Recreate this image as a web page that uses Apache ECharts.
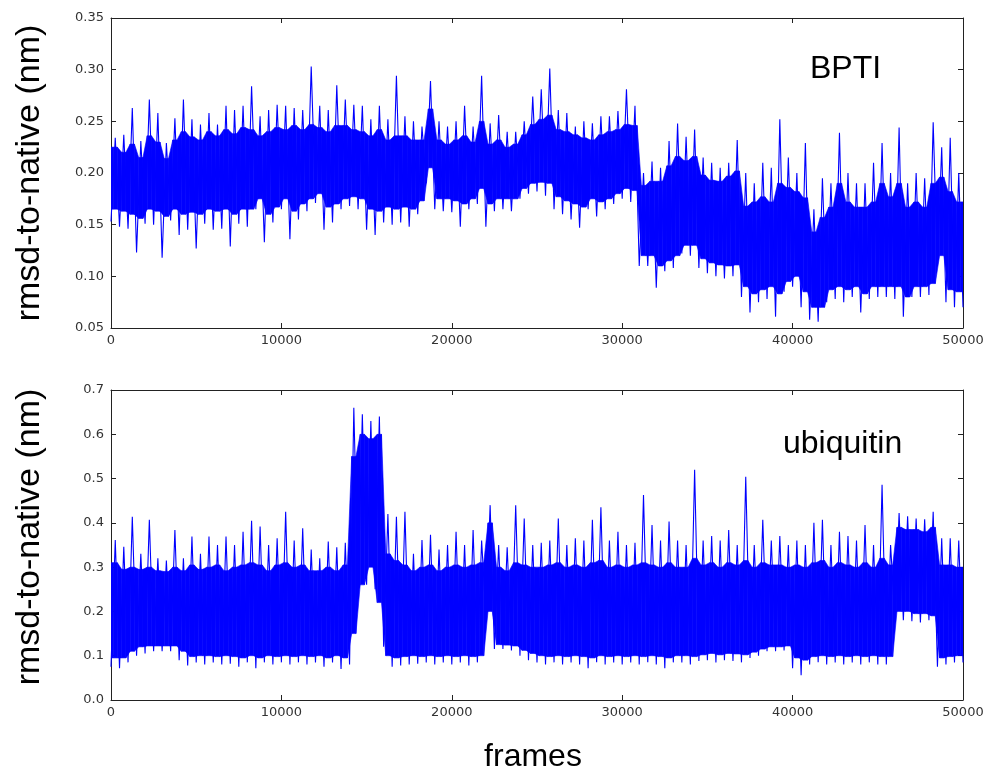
<!DOCTYPE html>
<html>
<head>
<meta charset="utf-8">
<script src="https://cdn.jsdelivr.net/npm/echarts@6/dist/echarts.min.js"></script>
<style>
  html, body { margin: 0; background: #fff; }
  #chart { width: 989px; height: 772px; }
</style>
</head>
<body>
<div id="chart"></div>
<script>
// frames per bin
const binSize = 500

// BPTI - per 500-frame bin: spike max / min and the edges of the solid band
const bptiHi = [
  0.234, 0.237, 0.263, 0.231, 0.271, 0.258, 0.229, 0.253, 0.271, 0.252,
  0.247, 0.258, 0.247, 0.265, 0.261, 0.265, 0.284, 0.255, 0.261, 0.266,
  0.265, 0.263, 0.261, 0.303, 0.265, 0.261, 0.285, 0.271, 0.266, 0.265,
  0.252, 0.265, 0.252, 0.294, 0.255, 0.25, 0.245, 0.289, 0.25, 0.245,
  0.25, 0.265, 0.245, 0.294, 0.248, 0.256, 0.24, 0.24, 0.25, 0.274,
  0.281, 0.301, 0.261, 0.258, 0.245, 0.25, 0.248, 0.255, 0.255, 0.26,
  0.281, 0.265, 0.2, 0.211, 0.205, 0.231, 0.248, 0.235, 0.242, 0.215,
  0.21, 0.205, 0.21, 0.232, 0.2, 0.19, 0.21, 0.205, 0.252, 0.215,
  0.2, 0.229, 0.165, 0.195, 0.19, 0.239, 0.2, 0.19, 0.19, 0.21,
  0.229, 0.2, 0.244, 0.19, 0.2, 0.195, 0.249, 0.225, 0.234, 0.2
]
const bptiLo = [
  0.153, 0.148, 0.146, 0.123, 0.151, 0.15, 0.118, 0.154, 0.14, 0.145,
  0.127, 0.151, 0.145, 0.146, 0.129, 0.151, 0.148, 0.165, 0.133, 0.152,
  0.165, 0.136, 0.155, 0.163, 0.171, 0.145, 0.152, 0.165, 0.168, 0.165,
  0.145, 0.14, 0.152, 0.15, 0.152, 0.148, 0.16, 0.19, 0.165, 0.163,
  0.162, 0.148, 0.165, 0.17, 0.148, 0.163, 0.165, 0.163, 0.175, 0.18,
  0.182, 0.178, 0.165, 0.16, 0.155, 0.147, 0.165, 0.158, 0.165, 0.17,
  0.175, 0.172, 0.11, 0.11, 0.089, 0.105, 0.108, 0.122, 0.12, 0.108,
  0.103, 0.1, 0.098, 0.1, 0.08, 0.065, 0.075, 0.078, 0.061, 0.085,
  0.09, 0.07, 0.058, 0.056, 0.075, 0.078, 0.075, 0.08, 0.065, 0.078,
  0.08, 0.08, 0.078, 0.061, 0.08, 0.08, 0.082, 0.11, 0.075, 0.07
]
const bptiTop = [
  0.225, 0.22, 0.228, 0.215, 0.236, 0.23, 0.214, 0.232, 0.24, 0.235,
  0.232, 0.24, 0.236, 0.242, 0.238, 0.244, 0.242, 0.236, 0.24, 0.244,
  0.242, 0.246, 0.242, 0.247, 0.244, 0.24, 0.246, 0.246, 0.242, 0.24,
  0.236, 0.242, 0.232, 0.236, 0.236, 0.232, 0.232, 0.262, 0.232, 0.228,
  0.232, 0.236, 0.23, 0.25, 0.228, 0.232, 0.225, 0.228, 0.237, 0.247,
  0.252, 0.256, 0.242, 0.24, 0.237, 0.234, 0.232, 0.237, 0.24, 0.242,
  0.247, 0.246, 0.188, 0.192, 0.192, 0.207, 0.216, 0.212, 0.216, 0.198,
  0.193, 0.192, 0.197, 0.202, 0.168, 0.172, 0.177, 0.172, 0.19, 0.186,
  0.182, 0.176, 0.143, 0.157, 0.167, 0.19, 0.172, 0.167, 0.167, 0.172,
  0.19, 0.177, 0.19, 0.167, 0.172, 0.167, 0.19, 0.196, 0.182, 0.172
]
const bptiBot = [
  0.165, 0.163, 0.16, 0.156, 0.165, 0.163, 0.158, 0.165, 0.16, 0.162,
  0.16, 0.165, 0.163, 0.165, 0.16, 0.165, 0.165, 0.175, 0.16, 0.167,
  0.175, 0.163, 0.17, 0.175, 0.18, 0.167, 0.17, 0.175, 0.177, 0.175,
  0.165, 0.163, 0.167, 0.165, 0.167, 0.165, 0.173, 0.205, 0.175, 0.175,
  0.173, 0.17, 0.175, 0.185, 0.17, 0.175, 0.175, 0.175, 0.185, 0.19,
  0.191, 0.19, 0.177, 0.173, 0.17, 0.167, 0.175, 0.172, 0.175, 0.18,
  0.185, 0.183, 0.12, 0.12, 0.11, 0.115, 0.12, 0.13, 0.13, 0.117,
  0.113, 0.111, 0.11, 0.111, 0.09, 0.083, 0.087, 0.09, 0.083, 0.095,
  0.1, 0.085, 0.07, 0.07, 0.087, 0.09, 0.087, 0.09, 0.083, 0.09,
  0.09, 0.09, 0.09, 0.08, 0.09, 0.09, 0.093, 0.12, 0.087, 0.085
]

// ubiquitin
const ubqHi = [
  0.361, 0.346, 0.414, 0.33, 0.407, 0.32, 0.315, 0.384, 0.32, 0.369,
  0.33, 0.369, 0.35, 0.369, 0.35, 0.38, 0.405, 0.392, 0.35, 0.365,
  0.425, 0.36, 0.388, 0.34, 0.32, 0.358, 0.345, 0.355, 0.66, 0.645,
  0.63, 0.64, 0.42, 0.414, 0.425, 0.33, 0.361, 0.373, 0.34, 0.35,
  0.38, 0.35, 0.384, 0.36, 0.44, 0.35, 0.345, 0.44, 0.41, 0.35,
  0.355, 0.36, 0.41, 0.35, 0.365, 0.36, 0.407, 0.435, 0.36, 0.38,
  0.35, 0.355, 0.463, 0.395, 0.36, 0.403, 0.36, 0.35, 0.52, 0.36,
  0.37, 0.36, 0.384, 0.35, 0.504, 0.35, 0.407, 0.36, 0.37, 0.35,
  0.36, 0.35, 0.4, 0.407, 0.35, 0.38, 0.37, 0.36, 0.395, 0.35,
  0.486, 0.35, 0.422, 0.415, 0.41, 0.408, 0.425, 0.365, 0.365, 0.36
]
const ubqLo = [
  0.075, 0.072, 0.085, 0.1, 0.105, 0.11, 0.11, 0.11, 0.09, 0.078,
  0.085, 0.08, 0.085, 0.08, 0.082, 0.075, 0.085, 0.072, 0.085, 0.08,
  0.085, 0.08, 0.085, 0.08, 0.085, 0.075, 0.085, 0.07, 0.08, 0.25,
  0.26, 0.25, 0.12, 0.075, 0.078, 0.08, 0.082, 0.085, 0.08, 0.085,
  0.08, 0.085, 0.078, 0.085, 0.19, 0.115, 0.115, 0.112, 0.1, 0.09,
  0.085, 0.08, 0.085, 0.08, 0.085, 0.08, 0.072, 0.085, 0.08, 0.085,
  0.08, 0.085, 0.08, 0.085, 0.08, 0.072, 0.085, 0.085, 0.08, 0.088,
  0.09, 0.085, 0.09, 0.088, 0.085, 0.095, 0.1, 0.11, 0.11, 0.112,
  0.072, 0.056, 0.08, 0.085, 0.08, 0.085, 0.08, 0.085, 0.08, 0.085,
  0.08, 0.08, 0.185, 0.18, 0.178, 0.175, 0.18, 0.075, 0.08, 0.085
]
const ubqTop = [
  0.31, 0.295, 0.3, 0.295, 0.3, 0.292, 0.29, 0.3, 0.292, 0.305,
  0.295, 0.3, 0.305, 0.292, 0.3, 0.305, 0.31, 0.305, 0.292, 0.305,
  0.31, 0.3, 0.305, 0.292, 0.292, 0.3, 0.292, 0.305, 0.55, 0.6,
  0.59, 0.6, 0.33, 0.315, 0.305, 0.292, 0.3, 0.305, 0.292, 0.3,
  0.305, 0.3, 0.305, 0.31, 0.4, 0.3, 0.292, 0.31, 0.305, 0.3,
  0.3, 0.305, 0.31, 0.3, 0.305, 0.3, 0.31, 0.315, 0.3, 0.305,
  0.3, 0.305, 0.31, 0.305, 0.3, 0.31, 0.3, 0.3, 0.32, 0.305,
  0.31, 0.3, 0.31, 0.305, 0.315, 0.3, 0.31, 0.305, 0.305, 0.3,
  0.305, 0.3, 0.31, 0.315, 0.3, 0.31, 0.305, 0.3, 0.31, 0.3,
  0.32, 0.305, 0.39, 0.385, 0.385, 0.38, 0.39, 0.305, 0.305, 0.3
]
const ubqBot = [
  0.095, 0.095, 0.11, 0.12, 0.122, 0.122, 0.122, 0.122, 0.11, 0.098,
  0.1, 0.1, 0.098, 0.1, 0.098, 0.095, 0.1, 0.095, 0.1, 0.098,
  0.1, 0.098, 0.1, 0.098, 0.1, 0.095, 0.1, 0.095, 0.15, 0.26,
  0.3, 0.22, 0.1, 0.095, 0.098, 0.1, 0.098, 0.1, 0.098, 0.1,
  0.098, 0.1, 0.098, 0.1, 0.2, 0.125, 0.124, 0.122, 0.112, 0.105,
  0.1, 0.098, 0.1, 0.098, 0.1, 0.098, 0.095, 0.1, 0.098, 0.1,
  0.098, 0.1, 0.098, 0.1, 0.098, 0.095, 0.1, 0.1, 0.098, 0.102,
  0.105, 0.102, 0.105, 0.104, 0.102, 0.108, 0.115, 0.12, 0.12, 0.122,
  0.095, 0.09, 0.098, 0.1, 0.098, 0.1, 0.098, 0.1, 0.098, 0.1,
  0.098, 0.098, 0.2, 0.2, 0.195, 0.195, 0.19, 0.095, 0.098, 0.1
]

// axis ranges / ticks
const frameMax = 50000
const frameStep = 10000
const bptiRange = [0.05, 0.35, 0.05]
const ubqRange = [0.0, 0.7, 0.1]

const BLUE = '#0000ff'
const INK = '#222'
const TICK_FONT = 'DejaVu Sans'
const TEXT_FONT = "'Liberation Sans', Arial, Helvetica, sans-serif"

// alternate bin min / max -> spiky trace
const zigzag = (lo, hi) => {
  const pts = []
  lo.forEach((v, i) => {
    pts.push([i * binSize, v], [i * binSize + binSize / 2, hi[i]])
  })
  pts.push([lo.length * binSize, lo[lo.length - 1]])
  return pts
}

// band edge: flat over the middle half of each bin, short ramps between bins
const bandQuads = (top, bot) => {
  const q = binSize / 4
  const verts = [[0, top[0], bot[0]]]
  top.forEach((t, i) => {
    verts.push([i * binSize + q, t, bot[i]], [i * binSize + 3 * q, t, bot[i]])
  })
  verts.push([top.length * binSize, top[top.length - 1], bot[bot.length - 1]])
  const quads = []
  for (let k = 0; k < verts.length - 1; k++) {
    const a = verts[k]
    const b = verts[k + 1]
    quads.push([a[0], b[0], a[1], b[1], a[2], b[2]])
  }
  return quads
}

const bandItem = (params, api) => {
  const x0 = api.value(0)
  const x1 = api.value(1)
  const points = [
    api.coord([x0, api.value(2)]),
    api.coord([x1, api.value(3)]),
    api.coord([x1, api.value(5)]),
    api.coord([x0, api.value(4)])
  ]
  return {
    type: 'polygon',
    shape: { points },
    style: { fill: BLUE, stroke: BLUE, lineWidth: 0.6 }
  }
}

const xAxis = (gridIndex, position) => ({
  gridIndex,
  type: 'value',
  position,
  min: 0,
  max: frameMax,
  interval: frameStep,
  axisLine: { show: true, onZero: false, lineStyle: { color: INK, width: 1 } },
  axisTick: { show: true, inside: true, length: 5, lineStyle: { color: INK } },
  axisLabel: {
    show: position === 'bottom',
    color: '#333',
    fontSize: 13,
    fontFamily: TICK_FONT,
    margin: 6,
    formatter: v => String(v)
  },
  splitLine: { show: false }
})

const yAxis = (gridIndex, position, range, digits) => ({
  gridIndex,
  type: 'value',
  position,
  min: range[0],
  max: range[1],
  interval: range[2],
  axisLine: { show: true, onZero: false, lineStyle: { color: INK, width: 1 } },
  axisTick: { show: true, inside: true, length: 5, lineStyle: { color: INK } },
  axisLabel: {
    show: position === 'left',
    color: '#333',
    fontSize: 13,
    fontFamily: TICK_FONT,
    margin: 7,
    formatter: v => v.toFixed(digits)
  },
  splitLine: { show: false }
})

const traceSeries = (idx, lo, top, bot, hi) => [
  {
    type: 'custom',
    xAxisIndex: idx * 2,
    yAxisIndex: idx * 2,
    renderItem: bandItem,
    encode: { x: [0, 1], y: [2, 3, 4, 5] },
    clip: true,
    silent: true,
    data: bandQuads(top, bot)
  },
  {
    type: 'line',
    xAxisIndex: idx * 2,
    yAxisIndex: idx * 2,
    showSymbol: false,
    clip: true,
    silent: true,
    lineStyle: { color: BLUE, width: 1.1 },
    data: zigzag(lo, hi)
  }
]

const label = (text, x, y, opts = {}) => ({
  type: 'text',
  x,
  y,
  rotation: opts.rotation || 0,
  style: {
    text,
    fill: '#000',
    font: `${opts.size || 32}px ${TEXT_FONT}`,
    textAlign: opts.align || 'left',
    textVerticalAlign: 'middle'
  }
})

const chart = echarts.init(document.getElementById('chart'))

chart.setOption({
  animation: false,
  backgroundColor: '#fff',
  grid: [
    { left: 111, top: 18, width: 852, height: 310 },
    { left: 111, top: 390, width: 852, height: 310 }
  ],
  xAxis: [
    xAxis(0, 'bottom'), xAxis(0, 'top'),
    xAxis(1, 'bottom'), xAxis(1, 'top')
  ],
  yAxis: [
    yAxis(0, 'left', bptiRange, 2), yAxis(0, 'right', bptiRange, 2),
    yAxis(1, 'left', ubqRange, 1), yAxis(1, 'right', ubqRange, 1)
  ],
  series: [
    ...traceSeries(0, bptiLo, bptiTop, bptiBot, bptiHi),
    ...traceSeries(1, ubqLo, ubqTop, ubqBot, ubqHi)
  ],
  graphic: [
    label('rmsd-to-native (nm)', 30, 173, { rotation: Math.PI / 2, align: 'center', size: 34 }),
    label('rmsd-to-native (nm)', 30, 537, { rotation: Math.PI / 2, align: 'center', size: 34 }),
    label('BPTI', 810, 69),
    label('ubiquitin', 783, 444),
    label('frames', 533, 757, { align: 'center' })
  ]
})
</script>
</body>
</html>
